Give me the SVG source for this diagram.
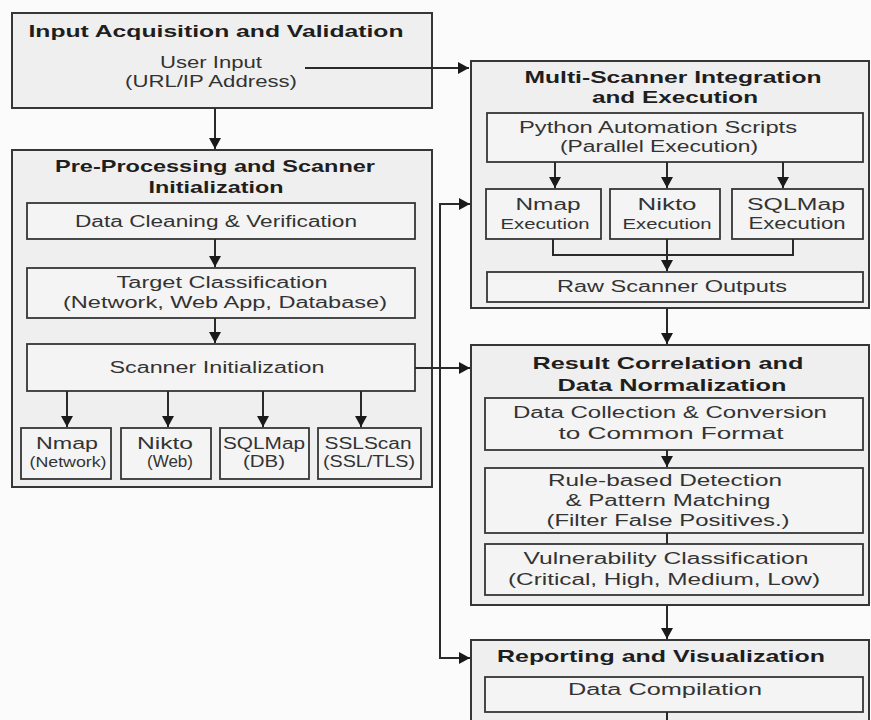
<svg xmlns="http://www.w3.org/2000/svg" width="871" height="720" viewBox="0 0 871 720">
<style>
.outer{fill:#efefef;stroke:#363636;stroke-width:2}
.inner{fill:#f4f4f4;stroke:#363636;stroke-width:1.8}
.t{font-family:"Liberation Sans",Arial,sans-serif;font-weight:bold;font-size:17px;fill:#1e1e1e;text-anchor:middle}
.b{font-family:"Liberation Sans",Arial,sans-serif;font-size:16px;fill:#333;text-anchor:middle}
.s{font-family:"Liberation Sans",Arial,sans-serif;font-size:14px;fill:#333;text-anchor:middle}
.c{fill:none;stroke:#2a2a2a;stroke-width:2}
</style>
<defs>
<marker id="ah" markerUnits="userSpaceOnUse" markerWidth="12" markerHeight="12" refX="11" refY="6" orient="auto">
<path d="M0,0 L11,6 L0,12 z" fill="#1a1a1a"/>
</marker>
</defs>
<rect width="871" height="720" fill="#fbfbfb"/>

<g id="input-acquisition">
<rect class="outer" x="12" y="13" width="420" height="95"/>
<text class="t" x="216" y="37" textLength="375" lengthAdjust="spacingAndGlyphs">Input Acquisition and Validation</text>
<text class="b" x="211" y="68" textLength="102" lengthAdjust="spacingAndGlyphs">User Input</text>
<text class="b" x="211" y="87" textLength="172" lengthAdjust="spacingAndGlyphs">(URL/IP Address)</text>
</g>

<g id="pre-processing">
<rect class="outer" x="12" y="150" width="420" height="337"/>
<text class="t" x="215" y="172" textLength="320" lengthAdjust="spacingAndGlyphs">Pre-Processing and Scanner</text>
<text class="t" x="216" y="193" textLength="135" lengthAdjust="spacingAndGlyphs">Initialization</text>
</g>
<g id="data-cleaning">
<rect class="inner" x="27" y="203" width="388" height="36"/>
<text class="b" x="216" y="227" textLength="282" lengthAdjust="spacingAndGlyphs">Data Cleaning &amp; Verification</text>
</g>
<g id="target-classification">
<rect class="inner" x="27" y="268" width="388" height="50"/>
<text class="b" x="222" y="288" textLength="211" lengthAdjust="spacingAndGlyphs">Target Classification</text>
<text class="b" x="225" y="308" textLength="324" lengthAdjust="spacingAndGlyphs">(Network, Web App, Database)</text>
</g>
<g id="scanner-initialization">
<rect class="inner" x="27" y="344" width="388" height="47"/>
<text class="b" x="217" y="373" textLength="215" lengthAdjust="spacingAndGlyphs">Scanner Initialization</text>
</g>
<g id="nmap-network">
<rect class="inner" x="21" y="428" width="90" height="51"/>
<text class="b" x="67" y="449" textLength="62" lengthAdjust="spacingAndGlyphs">Nmap</text>
<text class="s" x="68" y="467" textLength="77" lengthAdjust="spacingAndGlyphs">(Network)</text>
</g>
<g id="nikto-web">
<rect class="inner" x="121" y="428" width="90" height="51"/>
<text class="b" x="165" y="449" textLength="56" lengthAdjust="spacingAndGlyphs">Nikto</text>
<text class="b" x="170" y="467" textLength="46" lengthAdjust="spacingAndGlyphs">(Web)</text>
</g>
<g id="sqlmap-db">
<rect class="inner" x="220" y="428" width="89" height="51"/>
<text class="b" x="264" y="449" textLength="82" lengthAdjust="spacingAndGlyphs">SQLMap</text>
<text class="b" x="264" y="467" textLength="42" lengthAdjust="spacingAndGlyphs">(DB)</text>
</g>
<g id="sslscan">
<rect class="inner" x="318" y="428" width="103" height="51"/>
<text class="b" x="368" y="449" textLength="87" lengthAdjust="spacingAndGlyphs">SSLScan</text>
<text class="b" x="369" y="467" textLength="92" lengthAdjust="spacingAndGlyphs">(SSL/TLS)</text>
</g>

<g id="multi-scanner">
<rect class="outer" x="471" y="61" width="398" height="247"/>
<text class="t" x="673" y="83" textLength="297" lengthAdjust="spacingAndGlyphs">Multi-Scanner Integration</text>
<text class="t" x="675" y="103" textLength="166" lengthAdjust="spacingAndGlyphs">and Execution</text>
</g>
<g id="python-scripts">
<rect class="inner" x="487" y="113" width="376" height="49"/>
<text class="b" x="658" y="133" textLength="278" lengthAdjust="spacingAndGlyphs">Python Automation Scripts</text>
<text class="b" x="659" y="152" textLength="198" lengthAdjust="spacingAndGlyphs">(Parallel Execution)</text>
</g>
<g id="nmap-exec">
<rect class="inner" x="486" y="189" width="115" height="50"/>
<text class="b" x="548" y="210" textLength="65" lengthAdjust="spacingAndGlyphs">Nmap</text>
<text class="s" x="545" y="229" textLength="89" lengthAdjust="spacingAndGlyphs">Execution</text>
</g>
<g id="nikto-exec">
<rect class="inner" x="610" y="189" width="110" height="50"/>
<text class="b" x="667" y="210" textLength="59" lengthAdjust="spacingAndGlyphs">Nikto</text>
<text class="s" x="667" y="229" textLength="89" lengthAdjust="spacingAndGlyphs">Execution</text>
</g>
<g id="sqlmap-exec">
<rect class="inner" x="732" y="189" width="131" height="50"/>
<text class="b" x="796" y="210" textLength="98" lengthAdjust="spacingAndGlyphs">SQLMap</text>
<text class="b" x="797" y="229" textLength="97" lengthAdjust="spacingAndGlyphs">Execution</text>
</g>
<g id="raw-outputs">
<rect class="inner" x="487" y="272" width="376" height="30"/>
<text class="b" x="672" y="292" textLength="230" lengthAdjust="spacingAndGlyphs">Raw Scanner Outputs</text>
</g>

<g id="result-correlation">
<rect class="outer" x="471" y="345" width="398" height="260"/>
<text class="t" x="668" y="369" textLength="271" lengthAdjust="spacingAndGlyphs">Result Correlation and</text>
<text class="t" x="672" y="391" textLength="229" lengthAdjust="spacingAndGlyphs">Data Normalization</text>
</g>
<g id="data-collection">
<rect class="inner" x="485" y="398" width="378" height="52"/>
<text class="b" x="670" y="418" textLength="314" lengthAdjust="spacingAndGlyphs">Data Collection &amp; Conversion</text>
<text class="b" x="671" y="439" textLength="225" lengthAdjust="spacingAndGlyphs">to Common Format</text>
</g>
<g id="rule-detection">
<rect class="inner" x="485" y="468" width="378" height="65"/>
<text class="b" x="665" y="486" textLength="234" lengthAdjust="spacingAndGlyphs">Rule-based Detection</text>
<text class="b" x="668" y="506" textLength="205" lengthAdjust="spacingAndGlyphs">&amp; Pattern Matching</text>
<text class="b" x="668" y="526" textLength="243" lengthAdjust="spacingAndGlyphs">(Filter False Positives.)</text>
</g>
<g id="vuln-classification">
<rect class="inner" x="485" y="544" width="378" height="51"/>
<text class="b" x="666" y="564" textLength="285" lengthAdjust="spacingAndGlyphs">Vulnerability Classification</text>
<text class="b" x="664" y="585" textLength="312" lengthAdjust="spacingAndGlyphs">(Critical, High, Medium, Low)</text>
</g>

<g id="reporting">
<rect class="outer" x="471" y="640" width="398" height="90"/>
<text class="t" x="661" y="662" textLength="328" lengthAdjust="spacingAndGlyphs">Reporting and Visualization</text>
</g>
<g id="data-compilation">
<rect class="inner" x="485" y="677" width="378" height="35"/>
<text class="b" x="665" y="695" textLength="194" lengthAdjust="spacingAndGlyphs">Data Compilation</text>
</g>

<g id="connectors">
<path class="c" d="M305 68 H469" marker-end="url(#ah)"/>
<path class="c" d="M215 108 V149" marker-end="url(#ah)"/>
<path class="c" d="M215 239 V267" marker-end="url(#ah)"/>
<path class="c" d="M215 318 V343" marker-end="url(#ah)"/>
<path class="c" d="M67 391 V427" marker-end="url(#ah)"/>
<path class="c" d="M168 391 V427" marker-end="url(#ah)"/>
<path class="c" d="M263 391 V427" marker-end="url(#ah)"/>
<path class="c" d="M361 391 V427" marker-end="url(#ah)"/>
<path class="c" d="M415 368 H470" marker-end="url(#ah)"/>
<path class="c" d="M440 368 V204 H470" marker-end="url(#ah)"/>
<path class="c" d="M440 368 V658 H470" marker-end="url(#ah)"/>
<path class="c" d="M555 162 V188" marker-end="url(#ah)"/>
<path class="c" d="M667 162 V188" marker-end="url(#ah)"/>
<path class="c" d="M783 162 V188" marker-end="url(#ah)"/>
<path class="c" d="M553 239 V255 H793 V239"/>
<path class="c" d="M667 239 V271" marker-end="url(#ah)"/>
<path class="c" d="M667 308 V344" marker-end="url(#ah)"/>
<path class="c" d="M667 450 V467" marker-end="url(#ah)"/>
<path class="c" d="M667 533 V544"/>
<path class="c" d="M667 605 V639" marker-end="url(#ah)"/>
<path class="c" d="M667 712 V720"/>
</g>
</svg>
